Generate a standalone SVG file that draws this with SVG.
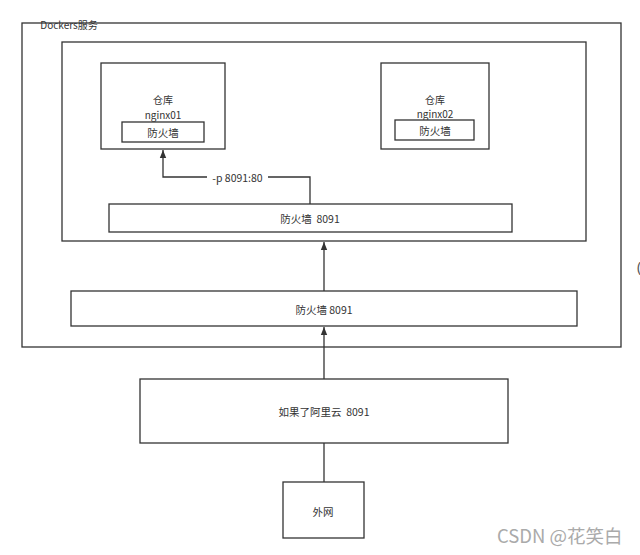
<svg xmlns="http://www.w3.org/2000/svg" width="640" height="555" viewBox="0 0 640 555">
<style>
.box{fill:#fff;stroke:#333;stroke-width:1.3}
.frame{fill:none;stroke:#333;stroke-width:1.3}
.t{font-family:"Noto Sans CJK SC","Noto Sans",sans-serif;font-size:10.5px;fill:#333;text-anchor:middle;dominant-baseline:central}
.c{fill:none;stroke:#333;stroke-width:1.3}
</style>
<defs>
<marker id="ah" markerWidth="8" markerHeight="12" refX="8" refY="4" orient="auto" markerUnits="userSpaceOnUse" viewBox="0 0 8 8">
<path d="M0,0.8 L8,4 L0,7.2 Z" fill="#333"/>
</marker>
</defs>
<rect width="640" height="555" fill="#fff"/>
<g id="docker">
<rect class="frame" x="22" y="23" width="599" height="324"/>
<text class="t" x="69" y="24" style="font-size:10px">Dockers服务</text>
</g>
<g id="inner">
<rect class="frame" x="62" y="42" width="524" height="199"/>
</g>
<g id="nginx01">
<rect class="box" x="101" y="63" width="124" height="86"/>
<text class="t" x="163" y="99" style="font-size:10px">仓库</text>
<text class="t" x="163" y="114" style="font-size:10px">nginx01</text>
<rect class="box" x="122" y="122" width="82" height="20"/>
<text class="t" x="163" y="132">防火墙</text>
</g>
<g id="nginx02">
<rect class="box" x="381" y="63" width="108" height="86"/>
<text class="t" x="435" y="99" style="font-size:10px">仓库</text>
<text class="t" x="435" y="113.5" style="font-size:10px">nginx02</text>
<rect class="box" x="395" y="120" width="79" height="20"/>
<text class="t" x="435" y="130">防火墙</text>
</g>
<g id="fw-inner">
<rect class="box" x="109" y="204" width="403" height="28"/>
<text class="t" x="310" y="218" xml:space="preserve">防火墙  8091</text>
</g>
<g id="fw-outer">
<rect class="box" x="71" y="291" width="506" height="35"/>
<text class="t" x="324" y="309">防火墙 8091</text>
</g>
<g id="aliyun">
<rect class="box" x="140" y="379" width="368" height="64"/>
<text class="t" x="324" y="411" xml:space="preserve">如果了阿里云  8091</text>
</g>
<g id="waiwang">
<rect class="box" x="283" y="482" width="81" height="56"/>
<text class="t" x="323" y="511">外网</text>
</g>
<g id="connectors">
<path class="c" d="M310,204 V177 H163 V150" marker-end="url(#ah)"/>
<rect x="207" y="170" width="61" height="14" fill="#fff"/>
<text class="t" x="237.5" y="177">-p 8091:80</text>
<path class="c" d="M324,291 V242" marker-end="url(#ah)"/>
<path class="c" d="M324,379 V327" marker-end="url(#ah)"/>
<path class="c" d="M324,443 V482"/>
</g>
<text x="497" y="543" style="font-family:'Noto Sans CJK SC','Noto Sans',sans-serif;font-size:18.5px;fill:#aaa">CSDN @花笑白</text>
<text x="637" y="272" style="font-family:'Noto Sans',sans-serif;font-size:14px;fill:#555">(</text>
</svg>
